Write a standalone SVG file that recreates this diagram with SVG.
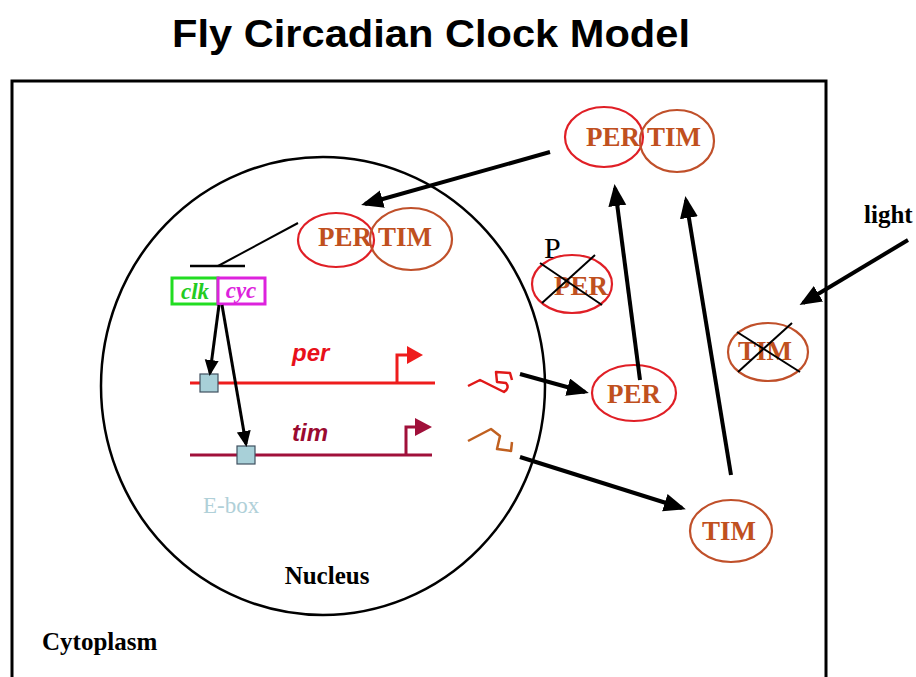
<svg xmlns="http://www.w3.org/2000/svg" width="916" height="677" viewBox="0 0 916 677">
<style>
.ser{font-family:"Liberation Serif","Times New Roman",serif;font-weight:bold}
.prot{font-family:"Liberation Serif","Times New Roman",serif;font-weight:bold;fill:#C0501E;font-size:27px;text-anchor:middle}
.pe{fill:none;stroke:#E01F26;stroke-width:2.2}
.te{fill:none;stroke:#C0502A;stroke-width:2.2}
.arr{stroke:#000;stroke-width:4;fill:none;marker-end:url(#ah)}
.arr2{stroke:#000;stroke-width:3;fill:none;marker-end:url(#ah2)}
.x{stroke:#000;stroke-width:2}
.gene{font-family:"Liberation Sans",Arial,sans-serif;font-weight:bold;font-style:italic;font-size:24px}
</style>
<defs>
<marker id="ah" markerUnits="userSpaceOnUse" markerWidth="24" markerHeight="20" refX="18" refY="9" orient="auto">
<path d="M0,0 L22,9 L0,18 z" fill="#000"/>
</marker>
<marker id="ah2" markerUnits="userSpaceOnUse" markerWidth="18" markerHeight="16" refX="13" refY="7" orient="auto">
<path d="M0,0 L16,7 L0,14 z" fill="#000"/>
</marker>
</defs>
<rect width="916" height="677" fill="#fff"/>
<text x="431" y="47" font-family="Liberation Sans,Arial,sans-serif" font-weight="bold" font-size="38" text-anchor="middle" textLength="518" lengthAdjust="spacingAndGlyphs">Fly Circadian Clock Model</text>
<g id="cytoplasm">
<rect x="12" y="81" width="814" height="640" fill="none" stroke="#000" stroke-width="3"/>
<text class="ser" x="42" y="650" font-size="25">Cytoplasm</text>
</g>
<g id="nucleus">
<ellipse cx="323" cy="386" rx="222" ry="229" fill="none" stroke="#000" stroke-width="2.5"/>
<text class="ser" x="327" y="584" font-size="25" text-anchor="middle">Nucleus</text>
</g>
<g id="light">
<text class="ser" x="864" y="223" font-size="25">light</text>
</g>
<g id="pertim-nuc">
<ellipse class="pe" cx="336" cy="240" rx="38" ry="27"/>
<ellipse class="te" cx="411" cy="239" rx="41" ry="31"/>
<text class="prot" x="345" y="246">PER</text>
<text class="prot" x="405" y="246">TIM</text>
</g>
<g id="pertim-cyto">
<ellipse class="pe" cx="604" cy="137" rx="39" ry="30"/>
<ellipse class="te" cx="677" cy="141" rx="37" ry="31"/>
<text class="prot" x="613" y="146">PER</text>
<text class="prot" x="674" y="146">TIM</text>
</g>
<g id="per-p">
<ellipse class="pe" cx="572" cy="284" rx="40" ry="29"/>
<text class="prot" x="581" y="295">PER</text>
<text x="544" y="258" font-family="Liberation Serif,serif" font-size="30">P</text>
<line class="x" x1="540" y1="263" x2="602" y2="305"/>
<line class="x" x1="542" y1="303" x2="595" y2="255"/>
</g>
<g id="tim-deg">
<ellipse class="te" cx="768" cy="352" rx="40" ry="29"/>
<text class="prot" x="765" y="360" font-size="25">TIM</text>
<line class="x" x1="737" y1="332" x2="800" y2="372"/>
<line class="x" x1="738" y1="372" x2="792" y2="323"/>
</g>
<g id="per-prot">
<ellipse class="pe" cx="634" cy="393" rx="42" ry="28"/>
<text class="prot" x="634" y="403">PER</text>
</g>
<g id="tim-prot">
<ellipse class="te" cx="731" cy="531" rx="41" ry="31"/>
<text class="prot" x="729" y="540">TIM</text>
</g>
<g id="clk-cyc">
<rect x="172" y="278" width="46" height="26" fill="#fff" stroke="#22DD22" stroke-width="3"/>
<rect x="218" y="278" width="47" height="26" fill="#fff" stroke="#DD22DD" stroke-width="3"/>
<text x="195" y="299" font-family="Liberation Serif,serif" font-weight="bold" font-style="italic" font-size="23" fill="#22CC22" text-anchor="middle">clk</text>
<text x="241" y="298" font-family="Liberation Serif,serif" font-weight="bold" font-style="italic" font-size="23" fill="#DD22DD" text-anchor="middle">cyc</text>
</g>
<g id="per-gene">
<line x1="190" y1="383" x2="435" y2="383" stroke="#EE1C1C" stroke-width="3"/>
<path d="M397,383 V355 H409" fill="none" stroke="#EE1C1C" stroke-width="3"/>
<path d="M407,346 L423,355 L407,364 z" fill="#EE1C1C"/>
<text class="gene" x="292" y="361" fill="#E8101A">per</text>
<rect x="200" y="374" width="18" height="18" fill="#A8D0D8" stroke="#405060" stroke-width="1.2"/>
</g>
<g id="tim-gene">
<line x1="190" y1="455" x2="432" y2="455" stroke="#A0103A" stroke-width="3"/>
<path d="M406,455 V427 H417" fill="none" stroke="#A0103A" stroke-width="3"/>
<path d="M415,418 L432,427 L415,436 z" fill="#A0103A"/>
<text class="gene" x="292" y="441" fill="#9A0A30">tim</text>
<rect x="237" y="446" width="18" height="18" fill="#A8D0D8" stroke="#405060" stroke-width="1.2"/>
</g>
<g id="ebox-label">
<text x="203" y="513" font-family="Liberation Serif,serif" font-size="23" fill="#B0D0D8">E-box</text>
</g>
<g id="per-mrna">
<path d="M468,386 L480,380 L492,386 L504,392 Q510,388 506,383 L497,382 L496,372 L510,373 L512,380" fill="none" stroke="#E01818" stroke-width="2.5" stroke-linejoin="round"/>
</g>
<g id="tim-mrna">
<path d="M468,441 L491,429 L500,436 L497,449 L511,451 L512,442" fill="none" stroke="#C06020" stroke-width="2.5" stroke-linejoin="round"/>
</g>
<g id="connectors">
<line x1="298" y1="223" x2="218" y2="266" stroke="#000" stroke-width="2"/>
<line x1="190" y1="266" x2="245" y2="266" stroke="#000" stroke-width="2.5"/>
<line class="arr" x1="550" y1="152" x2="365" y2="204"/>
<line class="arr" x1="640" y1="380" x2="615" y2="188"/>
<line class="arr" x1="731" y1="475" x2="686" y2="200"/>
<line class="arr" x1="520" y1="374" x2="585" y2="392"/>
<line class="arr" x1="520" y1="457" x2="682" y2="508"/>
<line class="arr" x1="908" y1="240" x2="803" y2="303"/>
<line class="arr2" x1="219" y1="305" x2="210" y2="373"/>
<line class="arr2" x1="222" y1="305" x2="246" y2="444"/>
</g>
</svg>
